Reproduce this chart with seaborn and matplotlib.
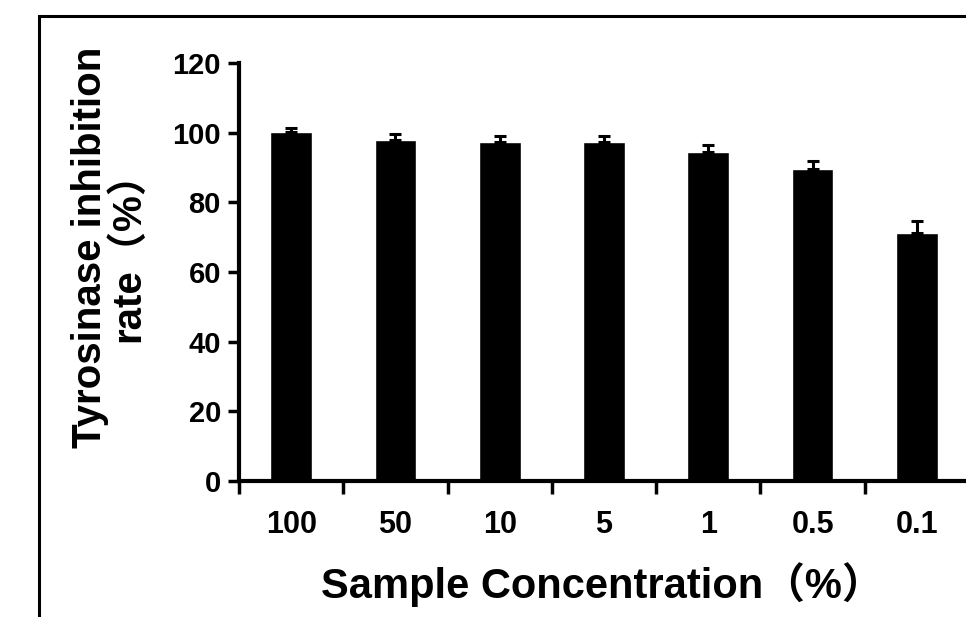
import seaborn as sns
import matplotlib.pyplot as plt
from matplotlib.patches import Rectangle

# Data
concentrations = ['100', '50', '10', '5', '1', '0.5', '0.1']
inhibition = [100.2, 97.8, 97.3, 97.2, 94.4, 89.6, 71.3]
sd = [1.2, 1.8, 1.6, 1.7, 2.0, 2.4, 3.2]

sns.set_style('ticks', {'axes.edgecolor': 'black', 'text.color': 'black',
                        'xtick.color': 'black', 'ytick.color': 'black'})
plt.rcParams['font.family'] = ['Liberation Sans', 'Noto Sans CJK SC', 'DejaVu Sans']
plt.rcParams['font.weight'] = 'bold'

fig = plt.figure(figsize=(9.66, 6.17), dpi=100)
ax = fig.add_axes([239 / 966, 1 - 481 / 617, 730 / 966, 418 / 617])

sns.barplot(x=concentrations, y=inhibition, color='black', width=0.4,
            errorbar=None, saturation=1, ax=ax)
ax.errorbar(range(len(concentrations)), inhibition, yerr=[[0] * len(sd), sd],
            fmt='none', ecolor='black', elinewidth=2.2, capsize=4.5, capthick=2.2)

ax.set_ylim(0, 120)
ax.set_xlim(-0.5, len(concentrations) - 0.5)
ax.set_yticks(range(0, 121, 20))
ax.set_xticks(range(len(concentrations)))
ax.set_xticks([i - 0.5 for i in range(len(concentrations) + 1)], minor=True)
ax.tick_params(axis='y', width=2.5, length=8, labelsize=21, pad=5)
ax.tick_params(axis='x', which='major', length=0, labelsize=22, pad=21)
ax.tick_params(axis='x', which='minor', width=2.5, length=9, direction='out')
for lab in ax.get_xticklabels() + ax.get_yticklabels():
    lab.set_fontweight('bold')
    lab.set_color('black')

sns.despine(ax=ax)
ax.spines['left'].set_linewidth(3)
ax.spines['bottom'].set_linewidth(3)
ax.set_xlabel('')
ax.set_ylabel('')

fig.text(109 / 966, 1 - 247 / 617, 'Tyrosinase inhibition\nrate（%）',
         rotation=90, ha='center', va='center', multialignment='center',
         fontsize=29, fontweight='bold', linespacing=1.0, color='black')
fig.text(602 / 966, 1 - 585 / 617, 'Sample Concentration（%）',
         ha='center', va='center', fontsize=30, fontweight='bold', color='black')

# outer frame of the original figure (cut off on the right and bottom)
fig.add_artist(Rectangle((38.5 / 966, -0.2), 2, 1.2 - 15.5 / 617,
                         transform=fig.transFigure, fill=False,
                         edgecolor='black', linewidth=2.2))

fig.savefig('out.png', dpi=100)
